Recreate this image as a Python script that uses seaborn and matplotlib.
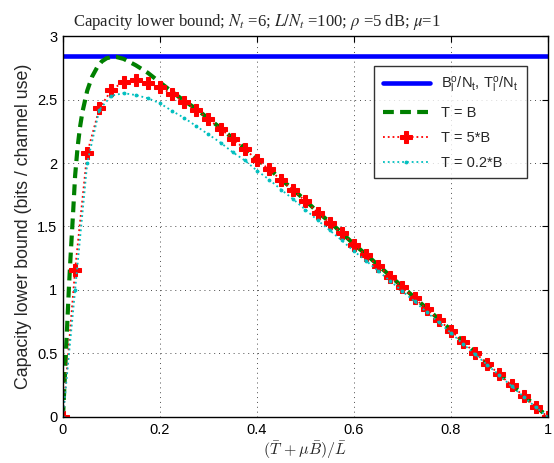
import numpy as np
import pandas as pd
import matplotlib
matplotlib.use("Agg")
import matplotlib.pyplot as plt
import seaborn as sns

# --- データ ---
x_mark = [0.0, 0.025, 0.05, 0.075, 0.1, 0.125, 0.15, 0.175, 0.2, 0.225,
          0.25, 0.275, 0.3, 0.325, 0.35, 0.375, 0.4, 0.425, 0.45, 0.475,
          0.5, 0.525, 0.55, 0.575, 0.6, 0.625, 0.65, 0.675, 0.7, 0.725,
          0.75, 0.775, 0.8, 0.825, 0.85, 0.875, 0.9, 0.925, 0.95, 0.975, 1.0]

cap_5B = [0.0, 1.16, 2.08, 2.43, 2.575, 2.64, 2.65, 2.63, 2.60, 2.54,
          2.48, 2.42, 2.345, 2.27, 2.19, 2.11, 2.025, 1.95, 1.865, 1.785,
          1.70, 1.61, 1.53, 1.445, 1.355, 1.275, 1.19, 1.105, 1.02, 0.935,
          0.85, 0.765, 0.68, 0.59, 0.505, 0.42, 0.335, 0.25, 0.165, 0.08, 0.0]

cap_02B = [0.0, 1.0, 2.0, 2.42, 2.53, 2.55, 2.535, 2.51, 2.47, 2.41,
           2.355, 2.29, 2.225, 2.16, 2.085, 2.02, 1.94, 1.87, 1.79, 1.714,
           1.632, 1.55, 1.47, 1.39, 1.306, 1.23, 1.15, 1.07, 0.99, 0.91,
           0.826, 0.745, 0.662, 0.575, 0.493, 0.41, 0.327, 0.243, 0.16, 0.077, 0.0]

x_TB = [0.0, 0.003, 0.006, 0.009, 0.012, 0.015, 0.018, 0.021, 0.025, 0.03,
        0.035, 0.04, 0.05, 0.06, 0.07, 0.08, 0.09, 0.1, 0.11, 0.125,
        0.15, 0.175, 0.2, 0.225, 0.25, 0.275, 0.3, 0.325, 0.35, 0.375,
        0.4, 0.425, 0.45, 0.475, 0.5, 0.525, 0.55, 0.575, 0.6, 0.625,
        0.65, 0.675, 0.7, 0.725, 0.75, 0.775, 0.8, 0.825, 0.85, 0.875,
        0.9, 0.925, 0.95, 0.975, 1.0]
cap_TB = [0.0, 0.25, 0.5, 0.75, 1.0, 1.22, 1.42, 1.62, 1.9, 2.12,
          2.28, 2.4, 2.57, 2.68, 2.75, 2.80, 2.825, 2.835, 2.835, 2.82,
          2.77, 2.71, 2.635, 2.56, 2.49, 2.425, 2.35, 2.275, 2.195, 2.115,
          2.03, 1.955, 1.87, 1.79, 1.705, 1.615, 1.535, 1.45, 1.36, 1.28,
          1.195, 1.11, 1.025, 0.94, 0.855, 0.77, 0.685, 0.595, 0.51, 0.425,
          0.34, 0.255, 0.17, 0.085, 0.0]

upper_bound = 2.843

labels = [r"B$_\mathrm{l}^\mathrm{o}$/N$_\mathrm{t}$, T$_\mathrm{l}^\mathrm{o}$/N$_\mathrm{t}$",
          "T = B", "T = 5*B", "T = 0.2*B"]

# --- スタイル ---
sns.set_style("white")
plt.rcParams['font.family'] = ['Liberation Sans', 'DejaVu Sans']
plt.rcParams['mathtext.fontset'] = 'custom'
plt.rcParams['mathtext.rm'] = 'Liberation Sans'
plt.rcParams['mathtext.it'] = 'Liberation Sans:italic'

fig = plt.figure(figsize=(5.54, 4.63), dpi=100)
ax = fig.add_axes([0.1137, 0.0994, 0.8753, 0.8228])

ax.axhline(upper_bound, color='blue', lw=3.3, label=labels[0])
sns.lineplot(x=x_TB, y=cap_TB, ax=ax, color=(0, 0.5, 0), lw=3,
             dashes=False, linestyle=(0, (2.6, 1.5)), label=labels[1],
             estimator=None, sort=False)
sns.lineplot(x=x_mark, y=cap_5B, ax=ax, color='red', lw=1.3, linestyle=':',
             marker='P', markersize=8.5, markeredgecolor='red', label=labels[2],
             estimator=None, sort=False)
sns.lineplot(x=x_mark, y=cap_02B, ax=ax, color=(0, 0.75, 0.75), lw=1.3,
             linestyle=':', marker='.', markersize=4,
             markeredgecolor=(0, 0.75, 0.75), label=labels[3],
             estimator=None, sort=False)

ax.set_xlim(0, 1)
ax.set_ylim(0, 3)
ax.set_xticks([0, 0.2, 0.4, 0.6, 0.8, 1])
ax.set_xticklabels(['0', '0.2', '0.4', '0.6', '0.8', '1'])
ax.set_yticks([0, 0.5, 1, 1.5, 2, 2.5, 3])
ax.set_yticklabels(['0', '0.5', '1', '1.5', '2', '2.5', '3'])
ax.tick_params(direction='in', top=True, right=True, length=4, width=0.8,
               labelsize=10.5, colors='black', pad=4)
ax.grid(True, linestyle=(0, (1, 4)), color='0.3', lw=0.7)
for s in ax.spines.values():
    s.set_color('black')
    s.set_linewidth(1.0)

ax.set_ylabel("Capacity lower bound (bits / channel use)", fontsize=12.8)
ax.set_xlabel(r"$(\bar{T}\,+\mu\bar{B})/\bar{L}$", fontsize=11.5,
              math_fontfamily='cm', labelpad=2)
ax.set_title(r"Capacity lower bound; $N_t$ =6; $L/N_t$ =100; $\rho$ =5 dB; $\mu$=1",
             fontsize=12, family=['Liberation Serif', 'DejaVu Serif'],
             math_fontfamily='stix', pad=7, x=0.4)

leg = ax.legend(loc='upper right', bbox_to_anchor=(0.957, 0.921), borderaxespad=0,
                fontsize=10.5, frameon=True, fancybox=False, edgecolor='black',
                handlelength=3.2, borderpad=0.6, labelspacing=0.75)
leg.get_frame().set_linewidth(1.0)

fig.savefig("out.png", dpi=100)
